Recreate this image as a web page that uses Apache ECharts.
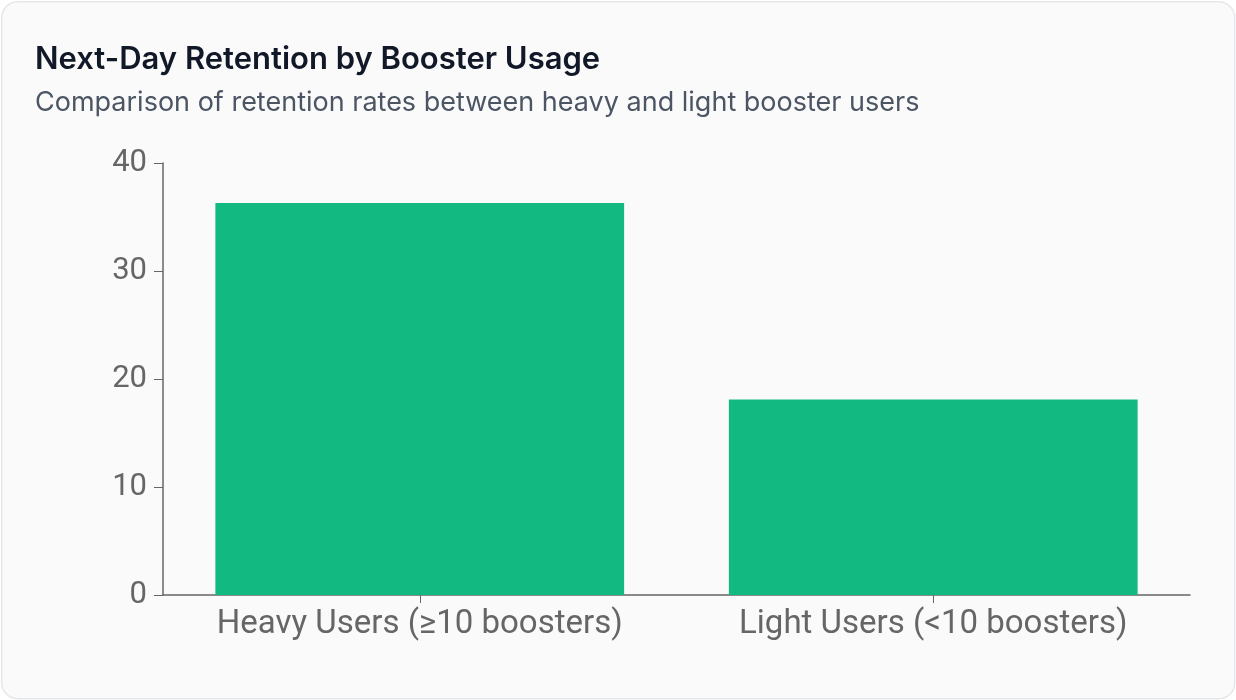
<!DOCTYPE html>
<html>
<head>
<meta charset="utf-8">
<script src="https://cdn.jsdelivr.net/npm/echarts@6/dist/echarts.min.js"></script>
<style>
html,body{margin:0;padding:0;background:#ffffff;}
#chart{width:1236px;height:700px;}
</style>
</head>
<body>
<div id="chart"></div>
<script>
const titleText = 'Next-Day Retention by Booster Usage';
const subtitleText = 'Comparison of retention rates between heavy and light booster users';
const categories = ['Heavy Users (≥10 boosters)', 'Light Users (<10 boosters)'];
const retentionValues = [36.3, 18.1];
const yTicks = [0, 10, 20, 30, 40];

const chart = echarts.init(document.getElementById('chart'), null, {renderer: 'canvas'});
chart.setOption({
  backgroundColor: 'transparent',
  animation: false,
  graphic: [{
    type: 'rect',
    left: 1, top: 1, z: -10,
    shape: {width: 1233, height: 697, r: 16},
    style: {fill: '#fafafa', stroke: '#e5e7eb', lineWidth: 1.5}
  }],
  title: {
    text: titleText,
    subtext: subtitleText,
    left: 35, top: 44,
    padding: 0,
    itemGap: 14,
    textStyle: {fontFamily: 'Inter', fontSize: 31, fontWeight: 600, color: '#111827'},
    subtextStyle: {fontFamily: 'Inter', fontSize: 27, fontWeight: 400, color: '#4b5563'}
  },
  grid: {left: 163, right: 46, top: 163, bottom: 105},
  xAxis: {
    type: 'category',
    data: categories,
    axisLine: {lineStyle: {color: '#666666', width: 1.5}},
    axisTick: {show: true, alignWithLabel: true, length: 8, lineStyle: {color: '#666666'}},
    axisLabel: {interval: 0, hideOverlap: false, fontFamily: 'Roboto', fontSize: 33, color: '#666666', margin: 13}
  },
  yAxis: {
    type: 'value',
    min: yTicks[0], max: yTicks[yTicks.length - 1], interval: 10,
    axisLine: {show: true, lineStyle: {color: '#666666', width: 1.5}},
    axisTick: {show: true, length: 9, lineStyle: {color: '#666666'}},
    splitLine: {show: false},
    axisLabel: {fontFamily: 'Roboto', fontSize: 31, color: '#666666', margin: 16}
  },
  series: [{
    type: 'bar',
    data: retentionValues,
    barWidth: '79.6%',
    itemStyle: {color: '#12b981'}
  }]
});
</script>
</body>
</html>
